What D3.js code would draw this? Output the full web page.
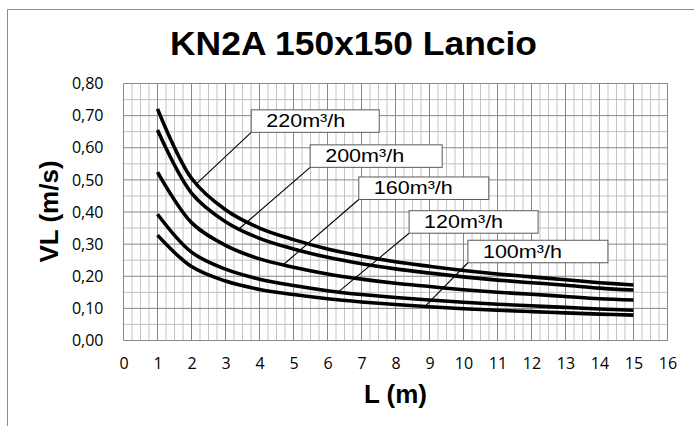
<!DOCTYPE html>
<html><head><meta charset="utf-8">
<script src="https://cdn.jsdelivr.net/npm/d3@7"></script>
<style>
html,body{margin:0;padding:0;background:#fff;}
svg{display:block;}
</style></head>
<body>
<svg id="chart" width="694" height="426"></svg>
<script>
// ---- data ----
const chartTitle = "KN2A 150x150 Lancio";
const xTitle = "L (m)";
const yTitle = "VL (m/s)";
const lengths = [1,2,3,4,5,6,7,8,9,10,11,12,13,14,15];
const seriesNames = ["220m³/h","200m³/h","160m³/h","120m³/h","100m³/h"];
const v220 = [0.721,0.505,0.407,0.350,0.314,0.285,0.263,0.245,0.231,0.218,0.207,0.198,0.189,0.180,0.173];
const v200 = [0.655,0.459,0.370,0.318,0.285,0.259,0.239,0.223,0.210,0.198,0.188,0.180,0.172,0.163,0.157];
const v160 = [0.524,0.367,0.296,0.254,0.228,0.207,0.191,0.178,0.168,0.158,0.150,0.144,0.137,0.130,0.126];
const v120 = [0.393,0.275,0.222,0.191,0.171,0.155,0.143,0.134,0.126,0.119,0.113,0.108,0.103,0.098,0.094];
const v100 = [0.328,0.230,0.185,0.159,0.143,0.130,0.120,0.112,0.105,0.099,0.094,0.090,0.086,0.082,0.079];
const xTicks = [0,1,2,3,4,5,6,7,8,9,10,11,12,13,14,15,16];
const yTicks = [0,0.1,0.2,0.3,0.4,0.5,0.6,0.7,0.8];
// label leader targets (L value on each curve) and label box anchor (bottom-left, data units)
const labelCurveL = [2.16,3.41,4.70,6.32,8.87];
const labelBoxL = [3.756,5.49,6.92,8.40,10.13];
const labelBoxV = [0.648,0.539,0.439,0.334,0.242];

// ---- layout ----
const boxW = [128,132,130,129,140];
const boxH = 22.5;
const svg = d3.select("#chart");
const x = d3.scaleLinear().domain([0,16]).range([123.5,667.5]);
const y = d3.scaleLinear().domain([0,0.8]).range([340.5,83.5]);

// outer chart border (partially visible)
svg.append("path").attr("d","M7.5,426 V9.5 H694").attr("fill","none").attr("stroke","#8c8c8c").attr("stroke-width",1);

// title
svg.append("text").attr("x",353.5).attr("y",55).attr("text-anchor","middle")
  .attr("font-family","Liberation Sans, Arial, sans-serif").attr("font-weight","bold")
  .attr("font-size",34).attr("textLength",367).attr("lengthAdjust","spacingAndGlyphs")
  .text(chartTitle);

// grid
const g = svg.append("g");
const minorX = d3.range(0,16.0001,0.25).filter(v=>Math.abs(v-Math.round(v))>1e-6);
const minorY = d3.range(0,0.80001,0.05).filter(v=>Math.abs(v*10-Math.round(v*10))>1e-6);
g.selectAll(".mx").data(minorX).join("line")
  .attr("x1",d=>x(d)).attr("x2",d=>x(d)).attr("y1",y(0)).attr("y2",y(0.8))
  .attr("stroke","#c4c4c4").attr("stroke-width",1);
g.selectAll(".my").data(minorY).join("line")
  .attr("y1",d=>y(d)).attr("y2",d=>y(d)).attr("x1",x(0)).attr("x2",x(16))
  .attr("stroke","#c4c4c4").attr("stroke-width",1);
g.selectAll(".Mx").data(xTicks).join("line")
  .attr("x1",d=>x(d)).attr("x2",d=>x(d)).attr("y1",y(0)).attr("y2",y(0.8))
  .attr("stroke","#878787").attr("stroke-width",1);
g.selectAll(".My").data(yTicks).join("line")
  .attr("y1",d=>y(d)).attr("y2",d=>y(d)).attr("x1",x(0)).attr("x2",x(16))
  .attr("stroke","#878787").attr("stroke-width",1);

// axes (labels only)
const fmt = d3.format(".2f");
const yAxis = d3.axisLeft(y).tickValues(yTicks).tickSize(0).tickPadding(20)
  .tickFormat(d=>fmt(d).replace(".",","));
const ya = svg.append("g").attr("transform",`translate(${x(0)},0)`).call(yAxis);
ya.select(".domain").remove();
ya.selectAll("text").attr("font-family","Open Sans, sans-serif").attr("font-size",16).attr("fill","#000");

const xAxis = d3.axisBottom(x).tickValues(xTicks).tickSize(0).tickPadding(17).tickFormat(d3.format("d"));
const xa = svg.append("g").attr("transform",`translate(0,${y(0)})`).call(xAxis);
xa.select(".domain").remove();
xa.selectAll("text").attr("font-family","Open Sans, sans-serif").attr("font-size",16).attr("fill","#000");

// axis titles
svg.append("text").attr("x",395.5).attr("y",403).attr("text-anchor","middle")
  .attr("font-family","Liberation Sans, Arial, sans-serif").attr("font-weight","bold").attr("font-size",26)
  .text(xTitle);
svg.append("text").attr("transform","translate(58,211.5) rotate(-90)").attr("text-anchor","middle")
  .attr("font-family","Liberation Sans, Arial, sans-serif").attr("font-weight","bold").attr("font-size",26)
  .text(yTitle);

// series
const allSeries = [v220,v200,v160,v120,v100];
const line = d3.line().x((d,i)=>x(lengths[i])).y(d=>y(d)).curve(d3.curveCatmullRom.alpha(0.5));
svg.append("g").selectAll("path").data(allSeries).join("path")
  .attr("d",d=>line(d)).attr("fill","none").attr("stroke","#000").attr("stroke-width",3.6)
  .attr("stroke-linecap","butt").attr("stroke-linejoin","round");

// labels with leader lines
function interp(vals, L){
  const i = Math.min(lengths.length-2, Math.max(0, Math.floor(L)-1));
  const t = (L - lengths[i])/(lengths[i+1]-lengths[i]);
  return vals[i] + t*(vals[i+1]-vals[i]);
}
const lab = svg.append("g");
seriesNames.forEach((name,k)=>{
  const bx = x(labelBoxL[k]), by = y(labelBoxV[k]);
  const cx = x(labelCurveL[k]), cy = y(interp(allSeries[k], labelCurveL[k]));
  lab.append("line").attr("x1",bx).attr("y1",by).attr("x2",cx).attr("y2",cy)
    .attr("stroke","#000").attr("stroke-width",1.1);
  lab.append("rect").attr("x",bx).attr("y",by-boxH).attr("width",boxW[k]).attr("height",boxH)
    .attr("fill","#fff").attr("stroke","#595959").attr("stroke-width",1);
  lab.append("text").attr("x",bx+15).attr("y",by-5)
    .attr("font-family","Liberation Sans, Arial, sans-serif").attr("font-size",19)
    .attr("textLength",79).attr("lengthAdjust","spacingAndGlyphs")
    .text(name);
});
</script>
</body></html>
